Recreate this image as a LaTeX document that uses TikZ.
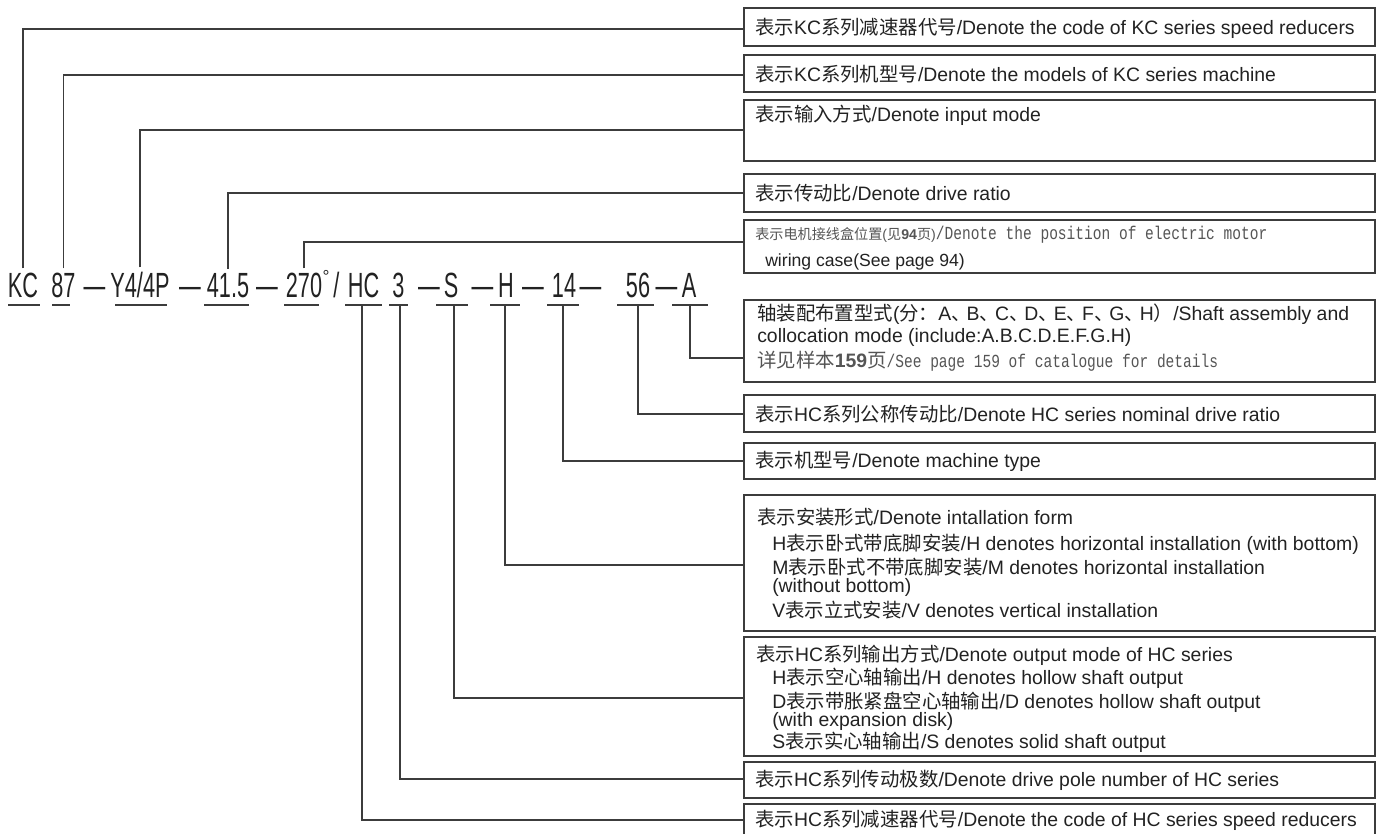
\documentclass[tikz,border=0pt]{standalone}
\usepackage{fontspec}
\setmainfont{Liberation Sans}
\newfontfamily\cjkf{Noto Sans CJK SC}
\newfontfamily\codef[FakeStretch=0.62]{Liberation Sans}
\newfontfamily\monof[FakeStretch=0.79]{Liberation Mono}
\newcommand\zh[1]{{\cjkf #1}}
\newcommand\zhs[1]{{\cjkf\fontsize{10.6pt}{13pt}\selectfont #1}}
\newcommand\mn[1]{{\monof\fontsize{13.8pt}{16pt}\selectfont #1}}
\newcommand\dun{\zh{、}\kern-3pt}
\usetikzlibrary{fit}
\definecolor{ink}{HTML}{222222}
\definecolor{linec}{HTML}{3C3C3C}
\definecolor{grayt}{HTML}{555555}
\tikzset{
  box/.style={draw=linec, line width=1.5pt, inner sep=0pt, rectangle},
  conn/.style={draw=linec, line width=1.1pt},
  uline/.style={draw=linec, line width=1.4pt},
  txt/.style={anchor=west, inner sep=0pt, text=ink, font=\fontsize{14.55pt}{17pt}\selectfont},
  codet/.style={anchor=base, inner sep=0pt, text=ink, font=\codef\fontsize{26.25pt}{30pt}\selectfont},
}
\begin{document}
\begin{tikzpicture}[x=0.75pt, y=-0.75pt]
\useasboundingbox[fill=white] (0,0) rectangle (1383,834);

% ---------- code line ----------
\node[codet] (kc)   at (23,297)    {KC};
\node[codet] (n87)  at (63.5,297)  {87};
\node[codet] (d1)   at (94.5,297)  {—};
\node[codet] (y4)   at (140,297)   {Y4/4P};
\node[codet] (d2)   at (190,297)   {—};
\node[codet] (r41)  at (228,297)   {41.5};
\node[codet] (d3)   at (267,297)   {—};
\node[codet] (r270) at (304,297)   {270};
\node[inner sep=0pt, text=ink, font=\fontsize{13pt}{14pt}\selectfont] (deg) at (326,276) {°};
\node[codet] (sl)   at (336.5,297) {/};
\node[codet] (hc)   at (363.5,297) {HC};
\node[codet] (n3)   at (398.5,297) {3};
\node[codet] (d4)   at (429,297)   {—};
\node[codet] (s)    at (451,297)   {S};
\node[codet] (d5)   at (482.5,297) {—};
\node[codet] (h)    at (506,297)   {H};
\node[codet] (d6)   at (533,297)   {—};
\node[codet] (n14)  at (564,297)   {14};
\node[codet] (d7)   at (590.5,297) {—};
\node[codet] (n56)  at (638,297)   {56};
\node[codet] (d8)   at (666.5,297) {—};
\node[codet] (a)    at (689,297)   {A};

% underlines
\draw[uline] (8,305) -- (40,305);
\draw[uline] (52,305) -- (70,305);
\draw[uline] (115,305) -- (167,305);
\draw[uline] (204,305) -- (249,305);
\draw[uline] (284,305) -- (319,305);
\draw[uline] (345,305) -- (382,305);
\draw[uline] (389,305) -- (408,305);
\draw[uline] (436,305) -- (468,305);
\draw[uline] (490,305) -- (520,305);
\draw[uline] (547,305) -- (579,305);
\draw[uline] (617,305) -- (654,305);
\draw[uline] (672,305) -- (708,305);

% ---------- boxes ----------
\node[box, fit={(744,8) (1375,46)}]    (b1) {};
\node[box, fit={(744,55) (1375,92)}]   (b2) {};
\node[box, fit={(744,100) (1375,161)}] (b3) {};
\node[box, fit={(744,174) (1375,212)}] (b4) {};
\node[box, fit={(744,220) (1375,273)}] (b5) {};
\node[box, fit={(744,300) (1375,382)}] (b6) {};
\node[box, fit={(744,395) (1375,432)}] (b7) {};
\node[box, fit={(744,443) (1375,479)}] (b8) {};
\node[box, fit={(744,495) (1375,631)}] (b9) {};
\node[box, fit={(744,637) (1375,756)}] (b10) {};
\node[box, fit={(744,762) (1375,798)}] (b11) {};
\node[box, fit={(744,804) (1375,837)}] (b12) {};

% ---------- box texts ----------
\node[txt] (t1) at (755,28) {\zh{表示}KC\zh{系列减速器代号}/Denote the code of KC series speed reducers};
\node[txt] (t2) at (755,74) {\zh{表示}KC\zh{系列机型号}/Denote the models of KC series machine};
\node[txt] (t3) at (755,115) {\zh{表示输入方式}/Denote input mode};
\node[txt] (t4) at (755,193) {\zh{表示传动比}/Denote drive ratio};
\node[txt, text=grayt] (t5a) at (755,235) {\zhs{表示电机接线盒位置}{\fontsize{10.6pt}{13pt}\selectfont(}\zhs{见}{\fontsize{10.6pt}{13pt}\selectfont\bfseries 94}\zhs{页}{\fontsize{10.6pt}{13pt}\selectfont)}\mn{/Denote the position of electric motor}};
\node[txt, font=\fontsize{13.2pt}{15pt}\selectfont] (t5b) at (765,262) {wiring case(See page 94)};
\node[txt] (t6a) at (757,314) {\zh{轴装配布置型式}(\zh{分：}A\dun B\dun C\dun D\dun E\dun F\dun G\dun H\zh{）}/Shaft assembly and};
\node[txt] (t6b) at (757,337) {collocation mode (include:A.B.C.D.E.F.G.H)};
\node[txt, text=grayt] (t6c) at (757,361) {\zh{详见样本}{\bfseries 159}\zh{页}\mn{/See page 159 of catalogue for details}};
\node[txt] (t7) at (755,414) {\zh{表示}HC\zh{系列公称传动比}/Denote HC series nominal drive ratio};
\node[txt] (t8) at (755,461) {\zh{表示机型号}/Denote machine type};
\node[txt] (t9a) at (757,517) {\zh{表示安装形式}/Denote intallation form};
\node[txt] (t9b) at (772,544) {H\zh{表示卧式带底脚安装}/H denotes horizontal installation (with bottom)};
\node[txt] (t9c) at (772,567) {M\zh{表示卧式不带底脚安装}/M denotes horizontal installation};
\node[txt] (t9d) at (772,587) {(without bottom)};
\node[txt] (t9e) at (772,610) {V\zh{表示立式安装}/V denotes vertical installation};
\node[txt] (t10a) at (756,655) {\zh{表示}HC\zh{系列输出方式}/Denote output mode of HC series};
\node[txt] (t10b) at (772,678) {H\zh{表示空心轴输出}/H denotes hollow shaft output};
\node[txt] (t10c) at (772,702) {D\zh{表示带胀紧盘空心轴输出}/D denotes hollow shaft output};
\node[txt] (t10d) at (772,721) {(with expansion disk)};
\node[txt] (t10e) at (772,742) {S\zh{表示实心轴输出}/S denotes solid shaft output};
\node[txt] (t11) at (755,780) {\zh{表示}HC\zh{系列传动极数}/Denote drive pole number of HC series};
\node[txt] (t12) at (755,820) {\zh{表示}HC\zh{系列减速器代号}/Denote the code of HC series speed reducers};

% ---------- connector end points ----------
\coordinate (e1) at (744,29);
\coordinate (e2) at (744,75);
\coordinate (e3) at (744,130);
\coordinate (e4) at (744,193);
\coordinate (e5) at (744,242);
\coordinate (e6) at (744,358);
\coordinate (e7) at (744,414);
\coordinate (e8) at (744,461);
\coordinate (e9) at (744,565);
\coordinate (e10) at (744,698);
\coordinate (e11) at (744,779);
\coordinate (e12) at (744,820);

\coordinate (ua)   at (690,305);
\coordinate (u56)  at (638,305);
\coordinate (u14)  at (563,305);
\coordinate (uh)   at (505,305);
\coordinate (us)   at (454,305);
\coordinate (u3)   at (400,305);
\coordinate (uhc)  at (362,305);

% ---------- connectors ----------
\draw[conn] ([yshift=3pt]kc.north)   |- (e1);
\draw[conn] ([yshift=3pt]n87.north)  |- (e2);
\draw[conn] ([yshift=3pt]y4.north)   |- (e3);
\draw[conn] ([yshift=3pt]r41.north)  |- (e4);
\draw[conn] ([yshift=3pt]r270.north) |- (e5);
\draw[conn] (ua)  |- (e6);
\draw[conn] (u56) |- (e7);
\draw[conn] (u14) |- (e8);
\draw[conn] (uh)  |- (e9);
\draw[conn] (us)  |- (e10);
\draw[conn] (u3)  |- (e11);
\draw[conn] (uhc) |- (e12);
\end{tikzpicture}
\end{document}
